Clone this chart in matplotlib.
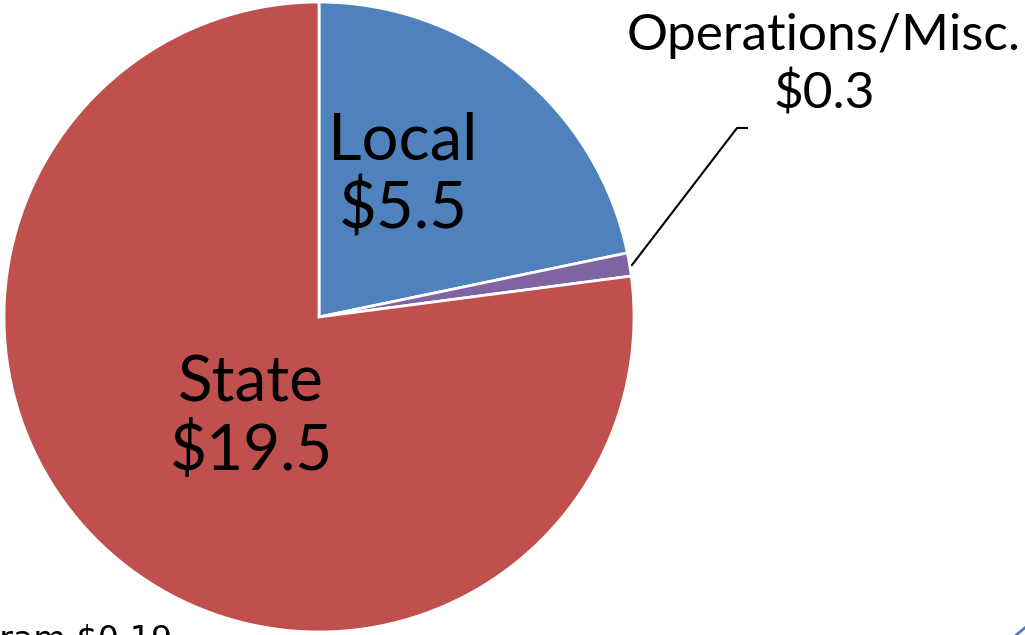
import matplotlib
matplotlib.use("Agg")
import matplotlib.pyplot as plt

# data ($ millions)
labels = ["Local", "Operations/Misc.", "State"]
values = [5.5, 0.3, 19.5]
colors = ["#4F81BD", "#8064A2", "#C0504D"]
extra_label = "Program"
extra_value = 0.19

plt.rcParams["font.family"] = ["Lato", "DejaVu Sans"]

W, H = 1025, 635
fig = plt.figure(figsize=(W / 100, H / 100), dpi=100)
ax = fig.add_axes([0, 0, 1, 1])

# pixel-like coordinates, y up
cx, cy, r = 319, H - 317, 315
wedges, _ = ax.pie(values, colors=colors, startangle=90, counterclock=False,
                   center=(cx, cy), radius=r,
                   wedgeprops=dict(edgecolor="white", linewidth=2))
ax.set_xlim(0, W)
ax.set_ylim(0, H)
ax.set_aspect("auto")
ax.axis("off")

# in-slice labels
ax.text(403, H - 160, labels[0], fontsize=47, ha="center", va="baseline")
ax.text(403, H - 228, f"${values[0]}", fontsize=47, ha="center", va="baseline")
ax.text(251, H - 402, labels[2], fontsize=46, ha="center", va="baseline")
ax.text(251, H - 470, f"${values[2]}", fontsize=46, ha="center", va="baseline")

# callout for the thin slice
ax.text(824, H - 50, labels[1], fontsize=37, ha="center", va="baseline")
ax.text(824, H - 108, f"${values[1]}", fontsize=37, ha="center", va="baseline")
ax.plot([632, 737, 747], [H - 265, H - 128, H - 128], color="black", lw=1.5)

# label from an adjoining chart, cut off at the bottom edge
ax.text(172, H - 650, f"{extra_label} ${extra_value}", fontsize=24,
        ha="right", va="baseline", family=["DejaVu Sans"], clip_on=False)

# small stroke of a neighbouring shape in the corner
ax.plot([1015, 1027], [H - 636, H - 626], color="#4F81BD", lw=2)

fig.savefig("out.png", dpi=100)
